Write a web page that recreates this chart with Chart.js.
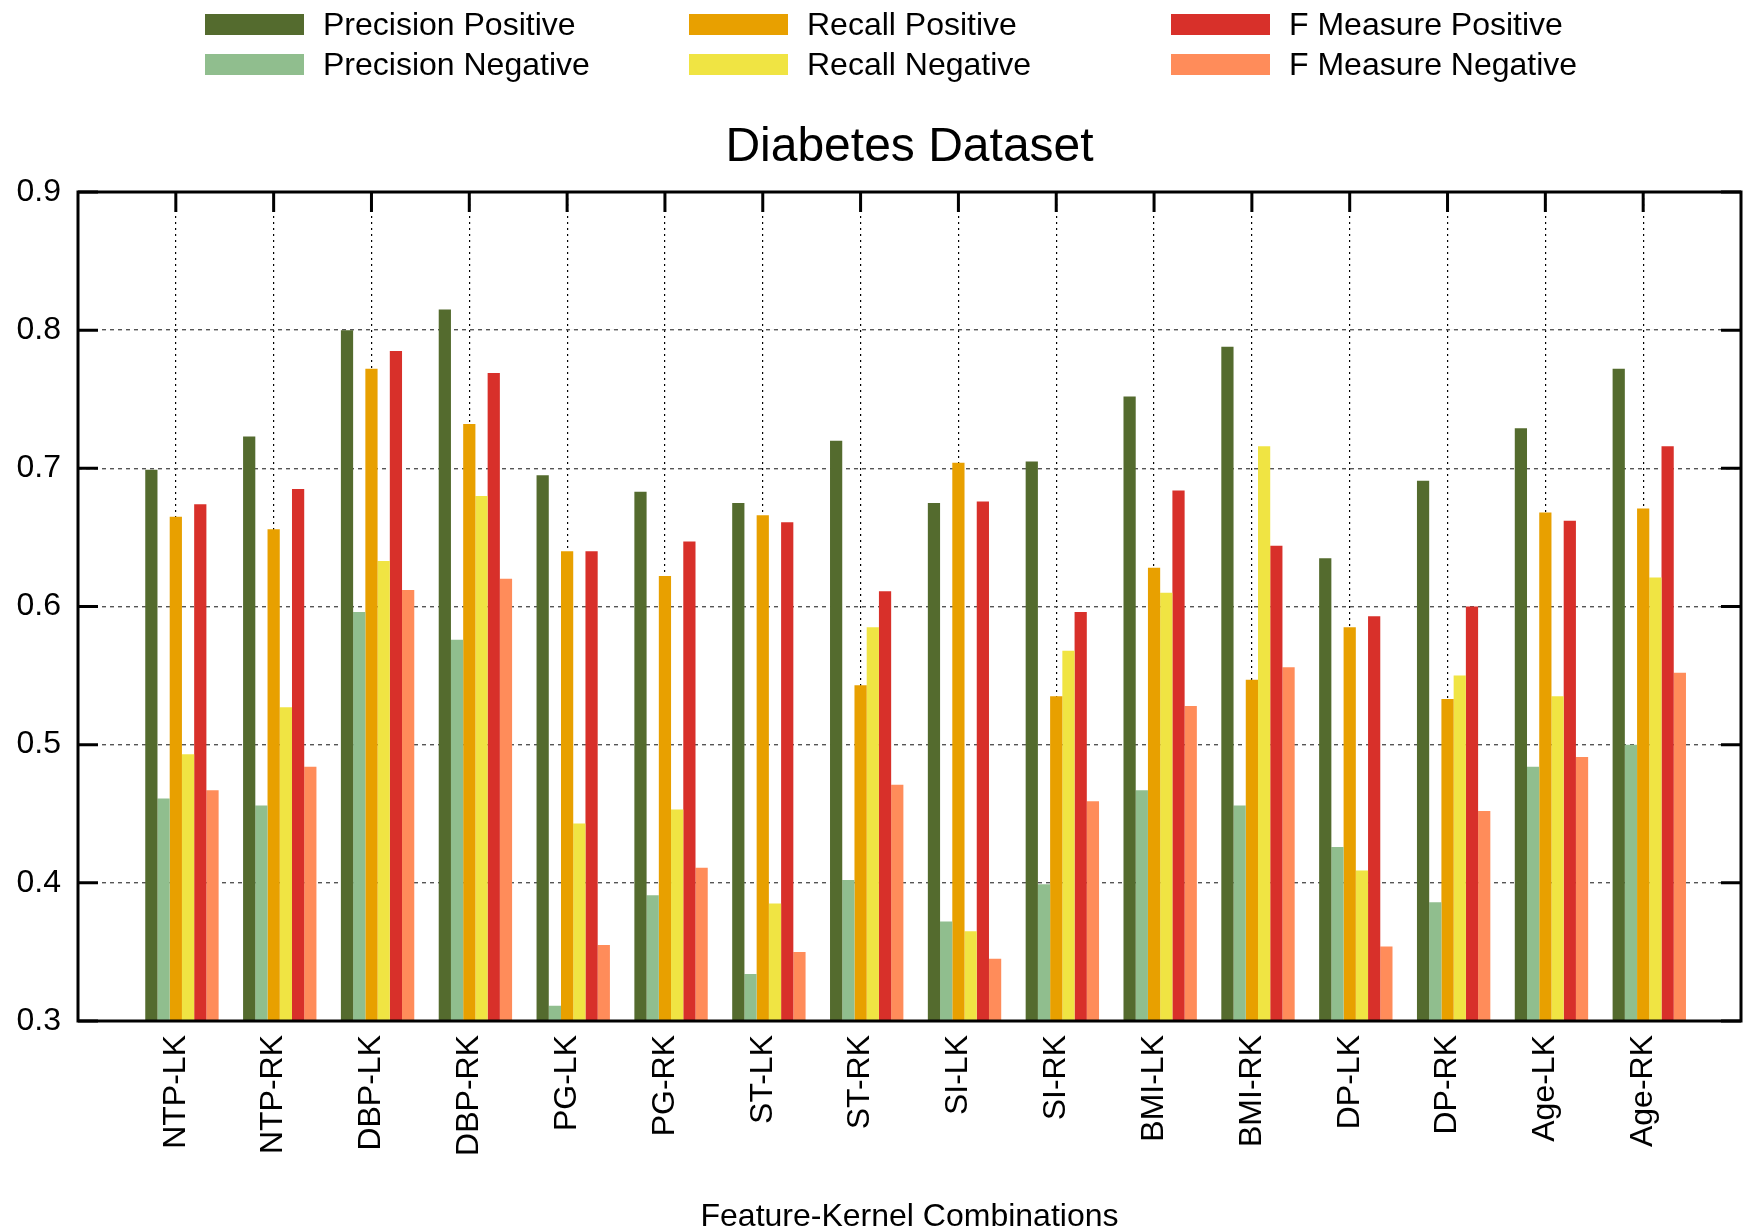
<!DOCTYPE html>
<html>
<head>
<meta charset="utf-8">
<title>Diabetes Dataset</title>
<script src="https://cdn.jsdelivr.net/npm/chart.js@4.4.1/dist/chart.umd.min.js"></script>
<style>
  html, body { margin: 0; padding: 0; background: #ffffff; }
  #wrap { position: relative; width: 1743px; height: 1232px; }
</style>
</head>
<body>
<div id="wrap"><canvas id="chart" width="1743" height="1232"></canvas></div>
<script>
// Feature-kernel combinations on the x axis
const categories = ['NTP-LK', 'NTP-RK', 'DBP-LK', 'DBP-RK', 'PG-LK', 'PG-RK', 'ST-LK', 'ST-RK',
                    'SI-LK', 'SI-RK', 'BMI-LK', 'BMI-RK', 'DP-LK', 'DP-RK', 'Age-LK', 'Age-RK'];

// Scores per combination
const precisionPositive = [0.699, 0.723, 0.800, 0.815, 0.695, 0.683, 0.675, 0.720, 0.675, 0.705, 0.752, 0.788, 0.635, 0.691, 0.729, 0.772];
const precisionNegative = [0.461, 0.456, 0.596, 0.576, 0.311, 0.391, 0.334, 0.402, 0.372, 0.399, 0.467, 0.456, 0.426, 0.386, 0.484, 0.500];
const recallPositive    = [0.665, 0.656, 0.772, 0.732, 0.640, 0.622, 0.666, 0.543, 0.704, 0.535, 0.628, 0.547, 0.585, 0.533, 0.668, 0.671];
const recallNegative    = [0.493, 0.527, 0.633, 0.680, 0.443, 0.453, 0.385, 0.585, 0.365, 0.568, 0.610, 0.716, 0.409, 0.550, 0.535, 0.621];
const fMeasurePositive  = [0.674, 0.685, 0.785, 0.769, 0.640, 0.647, 0.661, 0.611, 0.676, 0.596, 0.684, 0.644, 0.593, 0.600, 0.662, 0.716];
const fMeasureNegative  = [0.467, 0.484, 0.612, 0.620, 0.355, 0.411, 0.350, 0.471, 0.345, 0.459, 0.528, 0.556, 0.354, 0.452, 0.491, 0.552];

const seriesNames  = ['Precision Positive', 'Precision Negative', 'Recall Positive',
                      'Recall Negative', 'F Measure Positive', 'F Measure Negative'];
const seriesValues = [precisionPositive, precisionNegative, recallPositive,
                      recallNegative, fMeasurePositive, fMeasureNegative];
const seriesColors = ['#546b2e', '#90be8e', '#e8a000', '#f0e443', '#d8302a', '#ff8c5a'];

// Y axis tick values
const yTicks = [0.3, 0.4, 0.5, 0.6, 0.7, 0.8, 0.9];

const chartTitle = 'Diabetes Dataset';
const FONT = '"Liberation Sans", Arial, Helvetica, sans-serif';

// Each cluster keeps an empty leading slot so the axis tick sits on the third bar
const datasets = [{
  label: '',
  data: categories.map((c, i) => ({ x: i + 1, y: null })),
  backgroundColor: 'rgba(0,0,0,0)'
}].concat(seriesNames.map((name, s) => ({
  label: name,
  data: seriesValues[s].map((v, i) => ({ x: i + 1, y: v })),
  backgroundColor: seriesColors[s],
  borderWidth: 0
})));

// Inward tick marks on all four sides (drawn under the bars) and the plot frame
const tickMarks = {
  id: 'tickMarks',
  beforeDatasetsDraw(chart) {
    const { ctx, chartArea: a, scales: { x, y } } = chart;
    const len = 20;
    ctx.save();
    ctx.strokeStyle = '#000';
    ctx.lineWidth = 3;
    ctx.beginPath();
    yTicks.forEach(v => {
      const p = y.getPixelForValue(v);
      ctx.moveTo(a.left, p);  ctx.lineTo(a.left + len, p);
      ctx.moveTo(a.right, p); ctx.lineTo(a.right - len, p);
    });
    categories.forEach((c, i) => {
      const p = x.getPixelForValue(i + 1);
      ctx.moveTo(p, a.top);    ctx.lineTo(p, a.top + len);
      ctx.moveTo(p, a.bottom); ctx.lineTo(p, a.bottom - len);
    });
    ctx.stroke();
    ctx.restore();
  },
  afterDatasetsDraw(chart) {
    const { ctx, chartArea: a } = chart;
    ctx.save();
    ctx.strokeStyle = '#000';
    ctx.lineWidth = 3;
    ctx.strokeRect(a.left, a.top, a.right - a.left, a.bottom - a.top);
    ctx.restore();
  }
};

// Two-row key and the title centred over the plot area
const headerBlock = {
  id: 'headerBlock',
  afterDraw(chart) {
    const { ctx, chartArea: a } = chart;
    const colLeft = [205, 689, 1171];
    ctx.save();
    ctx.font = '32px ' + FONT;
    ctx.textBaseline = 'alphabetic';
    ctx.textAlign = 'left';
    seriesNames.forEach((name, i) => {
      const col = Math.floor(i / 2), row = i % 2;
      const x = colLeft[col], y = 14 + row * 40;
      ctx.fillStyle = seriesColors[i];
      ctx.fillRect(x, y, 99, 21);
      ctx.fillStyle = '#000';
      ctx.fillText(name, x + 118, y + 21);
    });
    ctx.font = '48px ' + FONT;
    ctx.textAlign = 'center';
    ctx.fillText(chartTitle, (a.left + a.right) / 2, 161);
    ctx.restore();
  }
};

new Chart(document.getElementById('chart'), {
  type: 'bar',
  data: { datasets },
  options: {
    responsive: false,
    animation: false,
    devicePixelRatio: 1,
    layout: { padding: { left: 0, right: 2, top: 192, bottom: 0 } },
    datasets: { bar: { categoryPercentage: 0.875, barPercentage: 1.0 } },
    plugins: {
      legend: { display: false },
      tooltip: { enabled: false },
      title: { display: false }
    },
    scales: {
      x: {
        type: 'linear',
        min: 0,
        max: categories.length + 1,
        offset: false,
        grid: {
          offset: false,
          drawTicks: false,
          color: '#000',
          lineWidth: 1.2
        },
        border: { display: false, dash: [2, 4] },
        ticks: {
          stepSize: 1,
          autoSkip: false,
          maxRotation: 90,
          minRotation: 90,
          padding: 14,
          color: '#000',
          font: { family: FONT, size: 32 },
          callback: v => categories[v - 1] || ''
        },
        title: {
          display: true,
          text: 'Feature-Kernel Combinations',
          color: '#000',
          font: { family: FONT, size: 32 },
          padding: { top: 0, bottom: -4 }
        },
        afterFit(scale) {
          scale.height = 211;
          scale.paddingLeft = 0;
          scale.paddingRight = 0;
        }
      },
      y: {
        min: 0.3,
        max: 0.9,
        grid: {
          drawTicks: false,
          color: '#555',
          lineWidth: 1.4
        },
        border: { display: false, dash: [4, 4] },
        ticks: {
          stepSize: 0.1,
          padding: 17,
          color: '#000',
          font: { family: FONT, size: 32 },
          callback: v => Number(v).toFixed(1)
        },
        afterFit(scale) { scale.width = 78; }
      }
    }
  },
  plugins: [tickMarks, headerBlock]
});
</script>
</body>
</html>
